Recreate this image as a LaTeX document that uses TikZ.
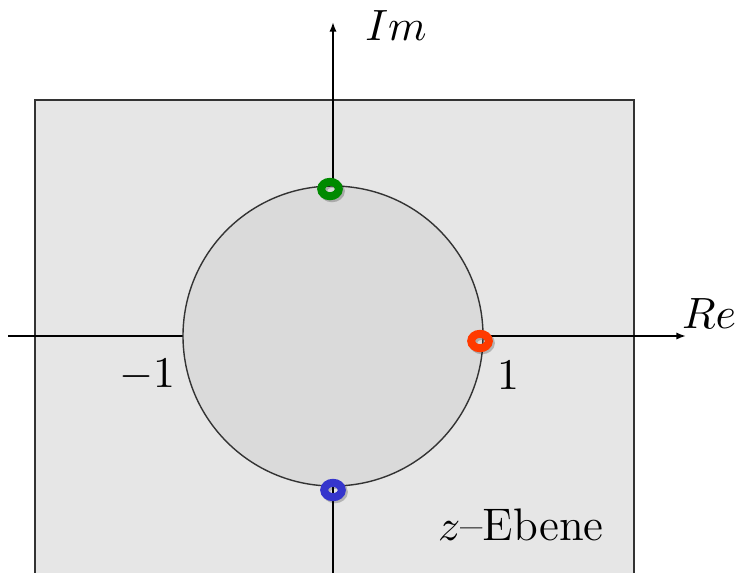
\documentclass[tikz,border=0pt]{standalone}
\usepackage{amsmath,amssymb}
\usepackage{tikz}
\usetikzlibrary{shapes.geometric,arrows.meta,positioning}

\definecolor{planegray}{HTML}{E6E6E6}
\definecolor{diskgray}{HTML}{DADADA}
\definecolor{framegray}{HTML}{333333}
\definecolor{markgreen}{HTML}{008A00}
\definecolor{markred}{HTML}{FF3A00}
\definecolor{markblue}{HTML}{3535CC}

\begin{document}
\begin{tikzpicture}[x=0.25pt, y=0.25pt, >={Latex[length=2.4pt,width=1.8pt]},
    plane/.style={draw=framegray, line width=0.6pt, fill=planegray},
    axis/.style={->, line width=0.45pt, black},
    disk/.style={circle, draw=black!80, line width=0.35pt, fill=diskgray, minimum size=75pt, inner sep=0pt},
    lbl/.style={font=\fontsize{11.4}{14}\selectfont, inner sep=1pt},
    ring/.style={ellipse, draw=#1, line width=2pt, minimum width=4.4pt, minimum height=3.6pt, inner sep=0pt},
    ringshadow/.style={ellipse, draw=black, opacity=0.22, line width=2pt, minimum width=4.4pt, minimum height=3.6pt, inner sep=0pt}]
    \useasboundingbox (0,0) rectangle (736,572);

    \fill[white] (0,0) rectangle (736,572);
    \draw[plane] (35,-20) rectangle (634,472);

    % axes
    \coordinate (o) at (333,236);
    \coordinate (xl) at (8,236);
    \coordinate (xr) at (686,236);
    \coordinate (yb) at (333,-5);
    \coordinate (yt) at (333,550);
    \draw[axis] (xl) -- (xr);
    \draw[axis] (yb) -- (yt);

    \node[disk] (unit) at (o) {};

    \node[lbl] (im) at (396,546) {$Im$};
    \node[lbl] (re) at (709,258) {$Re$};
    \node[lbl] (mone) at (147,197) {$-1$};
    \node[lbl] (one) at (508,197) {$1$};
    \node[lbl] (ebene) at (521,47) {$z$--Ebene};

    % markers
    \node[ringshadow] at (332,381) {};
    \node[ringshadow] at (482,229) {};
    \node[ringshadow] at (335,80) {};
    \node[ring=markgreen] (top) at (330,383) {};
    \node[ring=markred] (right) at (480,231) {};
    \node[ring=markblue] (bottom) at (333,82) {};
\end{tikzpicture}
\end{document}
